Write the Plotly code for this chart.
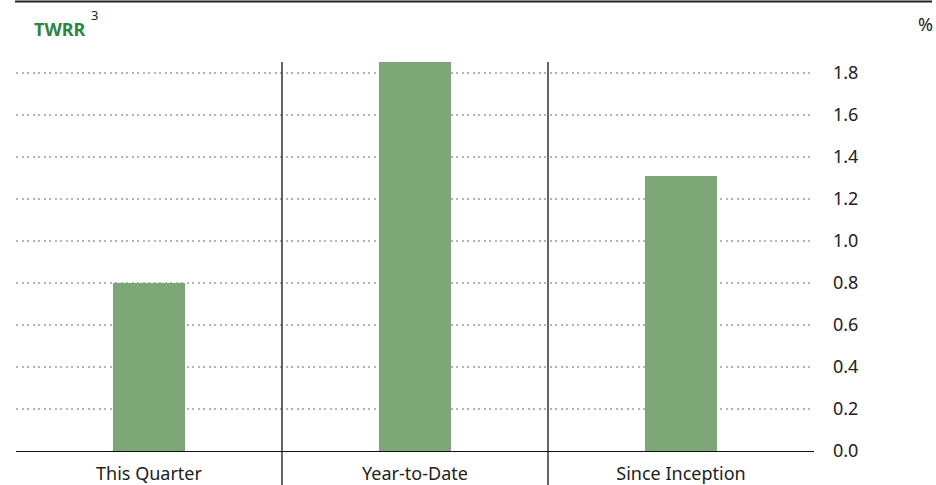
import plotly.graph_objects as go

categories = ["This Quarter", "Year-to-Date", "Since Inception"]
twrr_values = [0.80, 1.85, 1.31]
tick_vals = [0.0, 0.2, 0.4, 0.6, 0.8, 1.0, 1.2, 1.4, 1.6, 1.8]
tick_text = ["0.0", "0.2", "0.4", "0.6", "0.8", "1.0", "1.2", "1.4", "1.6", "1.8"]

W, H = 936, 485
L, R, T, B = 16, 122, 62, 34
pw, ph = W - L - R, H - T - B

fig = go.Figure()
fig.add_trace(go.Bar(x=categories, y=twrr_values, marker=dict(color="#7da776", line=dict(width=0)),
                     width=0.27, hoverinfo="x+y"))

shapes = []
for xpos in [0.5, 1.5]:
    shapes.append(dict(type="line", xref="x", yref="paper", x0=xpos, x1=xpos,
                       y0=-B / ph, y1=1.0, line=dict(color="#111111", width=1.3)))
shapes.append(dict(type="line", xref="paper", yref="paper", x0=(15 - L) / pw, x1=(932 - L) / pw,
                   y0=1 + (T - 1.5) / ph, y1=1 + (T - 1.5) / ph, line=dict(color="#222222", width=2)))

fig.update_layout(
    template="none",
    width=W, height=H,
    margin=dict(l=L, r=R, t=T, b=B, pad=0),
    paper_bgcolor="white", plot_bgcolor="white",
    showlegend=False,
    bargap=0,
    shapes=shapes,
    font=dict(family="Noto Sans", size=18, color="#222222"),
    xaxis=dict(range=[-0.5, 2.5], automargin=False, showgrid=False, showline=True,
               linecolor="#111111", linewidth=1.3,
               ticks="", tickfont=dict(size=18, color="#222222"), ticklabelstandoff=6, zeroline=False),
    yaxis=dict(range=[0, 1.85], automargin=False, side="right", tickvals=tick_vals, ticktext=tick_text,
               showgrid=True, gridcolor="#b4b4b4", griddash="2px,3.5px", gridwidth=1.5,
               zeroline=False, showline=False, ticks="", ticklabelstandoff=18,
               tickfont=dict(size=18, color="#222222")),
    annotations=[
        dict(xref="paper", yref="paper", x=(32 - L) / pw, y=1 + (T - 29) / ph, xanchor="left", yanchor="middle",
             text="<b>TWRR</b>", showarrow=False,
             font=dict(size=18, color="#2e8540", family="Noto Sans")),
        dict(xref="paper", yref="paper", x=(94 - L) / pw, y=1 + (T - 15) / ph, xanchor="center", yanchor="middle",
             text="3", showarrow=False, font=dict(size=13, color="#222222")),
        dict(xref="paper", yref="paper", x=(935 - L) / pw, y=1 + (T - 24) / ph, xanchor="right", yanchor="middle",
             text="%", showarrow=False, font=dict(size=18, color="#222222")),
    ],
)

fig.write_html("out.html", config={"displayModeBar": False},
               post_script="document.body.style.margin='0';")
